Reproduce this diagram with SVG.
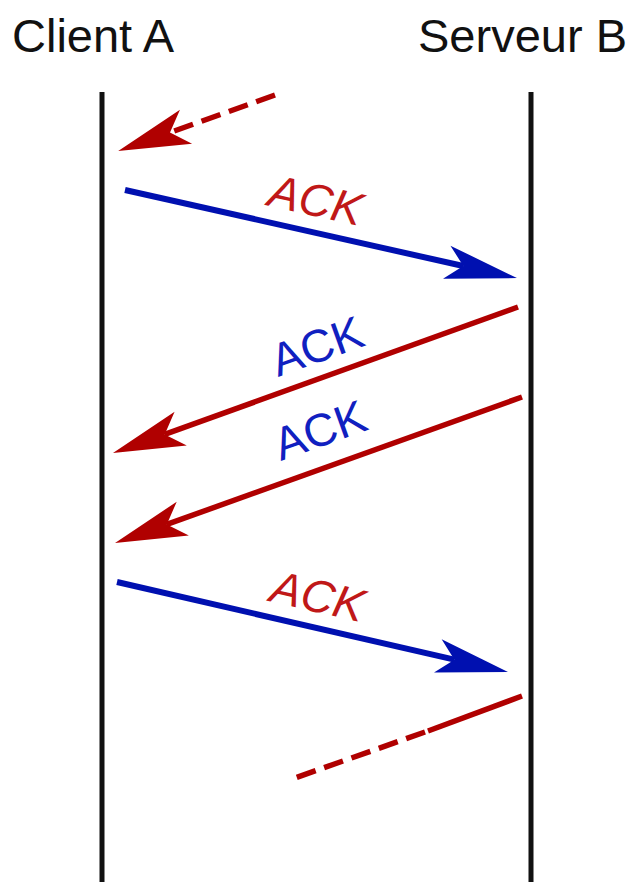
<svg xmlns="http://www.w3.org/2000/svg" width="636" height="884" viewBox="0 0 636 884">
<defs>
<style>
.title{font-family:"Liberation Sans",Arial,sans-serif;font-size:47px;fill:#111}
.life{stroke:#111;stroke-width:5}
.red{stroke:#b00000;stroke-width:5.5;fill:none}
.blue{stroke:#0010b0;stroke-width:6;fill:none}
.dash{stroke-dasharray:20 9}
.lblr{font-family:"Liberation Sans",Arial,sans-serif;font-size:46px;font-style:italic;fill:#c01818;text-anchor:middle}
.lblb{font-family:"Liberation Sans",Arial,sans-serif;font-size:46px;fill:#1020c0;text-anchor:middle}
</style>
<marker id="hr" markerUnits="userSpaceOnUse" viewBox="-20 -21 80 42" refX="0" refY="0" markerWidth="80" markerHeight="42" orient="auto"><path d="M55,0 L-17,-18 L0,0 L-17,18 Z" fill="#b00000"/></marker>
<marker id="hb" markerUnits="userSpaceOnUse" viewBox="-20 -21 80 42" refX="0" refY="0" markerWidth="80" markerHeight="42" orient="auto"><path d="M55,0 L-17,-17 L0,0 L-17,17 Z" fill="#0010b0"/></marker>
</defs>
<rect width="636" height="884" fill="#fff"/>
<g id="clientA"><text class="title" x="12" y="52">Client A</text><line class="life" x1="102" y1="92" x2="102" y2="882"/></g>
<g id="serveurB"><text class="title" x="418" y="52">Serveur B</text><line class="life" x1="531" y1="92" x2="531" y2="882"/></g>
<g id="connectors">
<line class="red dash" x1="275" y1="95" x2="170" y2="132.5" marker-end="url(#hr)"/>
<line class="blue" x1="125" y1="190" x2="463.3" y2="266" marker-end="url(#hb)"/>
<line class="red" x1="518" y1="307" x2="164.7" y2="434.4" marker-end="url(#hr)"/>
<line class="red" x1="522" y1="397" x2="166.8" y2="524.4" marker-end="url(#hr)"/>
<line class="blue" x1="117" y1="582" x2="454.4" y2="659.7" marker-end="url(#hb)"/>
<line class="red" x1="522" y1="696" x2="428" y2="731"/>
<line class="red dash" x1="425" y1="732" x2="295" y2="778"/>
</g>
<g id="labels">
<text class="lblr" transform="translate(316,200) rotate(12.6)" y="16">ACK</text>
<text class="lblb" transform="translate(317,346) rotate(-19.8)" y="16">ACK</text>
<text class="lblb" transform="translate(320,430) rotate(-19.6)" y="16">ACK</text>
<text class="lblr" transform="translate(318,596) rotate(12.9)" y="16">ACK</text>
</g>
</svg>
